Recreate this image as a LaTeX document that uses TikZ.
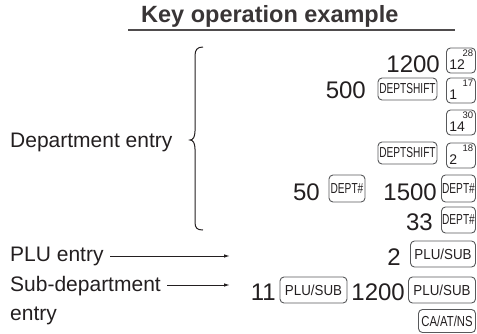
\documentclass[tikz,border=0pt]{standalone}
\usepackage{fontspec}
\setmainfont{Liberation Sans}
\usetikzlibrary{arrows.meta}
\definecolor{ink}{HTML}{231F20}
\definecolor{keyline}{HTML}{58595B}
\newcommand\cond[2]{\scalebox{#1}[1]{#2}}
\newcommand\nkey[4]{%
  \node[nkeybox] (#1) at (#2) {};
  \node[nmain] (#1m) at ([xshift=3pt,yshift=3.5pt]#1.south west) {#3};
  \node[nsup] (#1s) at ([xshift=-2.5pt,yshift=-2pt]#1.north east) {#4};}
\begin{document}
\begin{tikzpicture}[x=1pt,y=-1pt,
  num/.style={font=\fontsize{24}{24}\selectfont, text=ink, inner sep=0pt, anchor=base east},
  lbl/.style={font=\fontsize{21}{21}\selectfont, text=ink, inner sep=0pt, anchor=base west},
  keybox/.style={draw=keyline, line width=0.9pt, rounded corners=4pt, inner sep=0pt,
    font=\fontsize{14.5}{14.5}\selectfont, text=ink},
  nkeybox/.style={keybox, minimum width=29pt, minimum height=25pt},
  nmain/.style={font=\fontsize{14}{14}\selectfont, text=ink, inner sep=0pt, anchor=base west},
  nsup/.style={font=\fontsize{9.5}{9.5}\selectfont, text=ink, inner sep=0pt, anchor=north east},
  conn/.style={draw=ink, line width=1pt, -{Latex[length=6pt,width=3.5pt]}},
]
\useasboundingbox (0,0) rectangle (477,333);

% title
\node[font=\fontsize{23.5}{24}\selectfont\bfseries, text=ink!90, inner sep=0pt, anchor=base west] (title) at (141,22) {Key operation example};
\coordinate (ulA) at (128,30);
\coordinate (ulB) at (455,30);
\draw[line width=1.6pt, draw=ink!80] (ulA) -- (ulB);

% left labels
\node[lbl] (dep) at (10,147) {Department entry};
\node[lbl] (plu) at (10,261) {PLU entry};
\node[lbl] (sub) at (10,291) {Sub-department};
\node[lbl] (sub2) at (10,320) {entry};

% brace
\draw[draw=ink, line width=1pt] (203,47) .. controls (197,47) and (195,50) .. (195,56) -- (195,131)
  .. controls (195,137) and (193,140) .. (190,140)
  .. controls (193,140) and (195,143) .. (195,149) -- (195,222)
  .. controls (195,228) and (197,230) .. (203,230);

% arrows
\coordinate (a1s) at (110,256);
\coordinate (a1e) at (230,256);
\coordinate (a2s) at (167,285);
\coordinate (a2e) at (230,285);
\draw[conn] (a1s) -- (a1e);
\draw[conn] (a2s) -- (a2e);

% row 1
\node[num] (n1200a) at (440,72) {1200};
\nkey{k12}{461,60.5}{12}{28}
% row 2
\node[num] (n500) at (366,98) {500};
\node[keybox, minimum width=59pt, minimum height=22pt] (kds1) at (407.5,89) {\cond{0.7}{DEPTSHIFT}};
\nkey{k1}{461,90.5}{1}{17}
% row 3
\nkey{k14}{461,122.5}{14}{30}
% row 4
\node[keybox, minimum width=59pt, minimum height=22pt] (kds2) at (407.5,153) {\cond{0.7}{DEPTSHIFT}};
\nkey{k2}{461,155.5}{2}{18}
% row 5
\node[num] (n50) at (320,200) {50};
\node[keybox, minimum width=36pt, minimum height=27pt] (kd1) at (347,188.5) {\cond{0.7}{DEPT\#}};
\node[num] (n1500) at (437,200) {1500};
\node[keybox, minimum width=34pt, minimum height=27pt] (kd2) at (458.5,188.5) {\cond{0.7}{DEPT\#}};
% row 6
\node[num] (n33) at (433,230) {33};
\node[keybox, minimum width=34pt, minimum height=26pt] (kd3) at (458.5,220) {\cond{0.7}{DEPT\#}};
% row 7
\node[num] (n2) at (401,265) {2};
\node[keybox, minimum width=65pt, minimum height=26pt] (kp1) at (443,254) {\cond{0.92}{PLU/SUB}};
% row 8
\node[num] (n11) at (276,300) {11};
\node[keybox, minimum width=67pt, minimum height=26pt] (kp2) at (313.5,290) {\cond{0.92}{PLU/SUB}};
\node[num] (n1200b) at (405,300) {1200};
\node[keybox, minimum width=67pt, minimum height=26pt] (kp3) at (442,290) {\cond{0.92}{PLU/SUB}};
% row 9
\node[keybox, minimum width=57pt, minimum height=23pt] (kca) at (447,321) {\cond{0.78}{CA/AT/NS}};
\end{tikzpicture}
\end{document}
